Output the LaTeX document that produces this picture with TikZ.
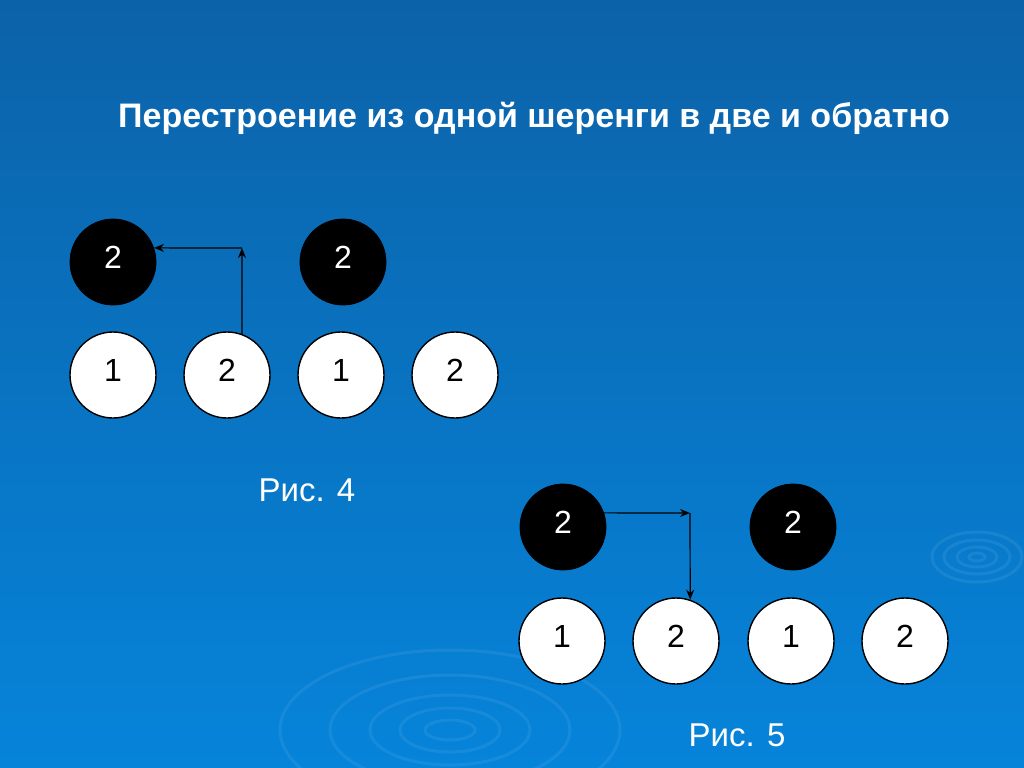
\documentclass[tikz,border=0pt]{standalone}
\usepackage{fontspec}
\setmainfont{Liberation Sans}
\usetikzlibrary{arrows.meta}
\definecolor{bgtop}{RGB}{12,98,168}
\definecolor{bgmid}{RGB}{10,110,190}
\definecolor{bgbot}{RGB}{6,132,218}
\begin{document}
\begin{tikzpicture}[x=0.5pt,y=-0.5pt,
    blkman/.style={circle,draw=black,fill=black,text=white,minimum size=43pt,inner sep=0pt,text height=11.5pt,text depth=5pt,font=\fontsize{16}{19}\selectfont},
    whtman/.style={circle,draw=black,line width=0.7pt,fill=white,text=black,minimum size=43pt,inner sep=0pt,text height=11.5pt,text depth=5pt,font=\fontsize{16}{19}\selectfont},
    arrow/.style={-{Stealth[length=5pt,width=4pt]},line width=0.6pt},
    caption/.style={text=white,font=\fontsize{16.5}{19}\selectfont},
    ripple/.style={white,opacity=0.07,line width=1.5pt}]
    \useasboundingbox (0,0) rectangle (1024,767);
    \shade[top color=bgtop,middle color=bgmid,bottom color=bgbot] (0,0) rectangle (1024,767);
    % ripples
    \begin{scope}
    \clip (0,0) rectangle (1024,767);
    \foreach \rx/\ry in {25/10,50/22,80/35,120/55,170/80} \draw[ripple] (450,730) ellipse ({\rx} and {\ry});
    \foreach \rx/\ry in {8/4,20/10,33/17,45/25} \draw[ripple] (977,557) ellipse ({\rx} and {\ry});
    \end{scope}
    \node[text=white,font=\bfseries\fontsize{17}{20}\selectfont] (title) at (534,118) {Перестроение из одной шеренги в две и обратно};
    % fig. 4
    \foreach \n/\x in {1/113,2/343} \node[blkman] (b4\n) at (\x,262) {2};
    \foreach \n/\x/\t in {1/113/1,2/227/2,3/341/1,4/455/2} \node[whtman] (w4\n) at (\x,375) {\t};
    \coordinate (c4) at (242,248);
    \draw[arrow] (w42.70) -- (c4);
    \draw[arrow] (c4) -- (b41.19);
    \node[caption] (cap4) at (307,490) {Рис. 4};
    % fig. 5
    \foreach \n/\x in {1/563,2/793} \node[blkman] (b5\n) at (\x,527) {2};
    \foreach \n/\x/\t in {1/562/1,2/676/2,3/791/1,4/905/2} \node[whtman] (w5\n) at (\x,641) {\t};
    \coordinate (c5) at (690,513);
    \draw[arrow] (b51.19) -- (c5);
    \draw[arrow] (c5) -- (w52.71);
    \node[caption] (cap5) at (737,735) {Рис. 5};
\end{tikzpicture}
\end{document}
